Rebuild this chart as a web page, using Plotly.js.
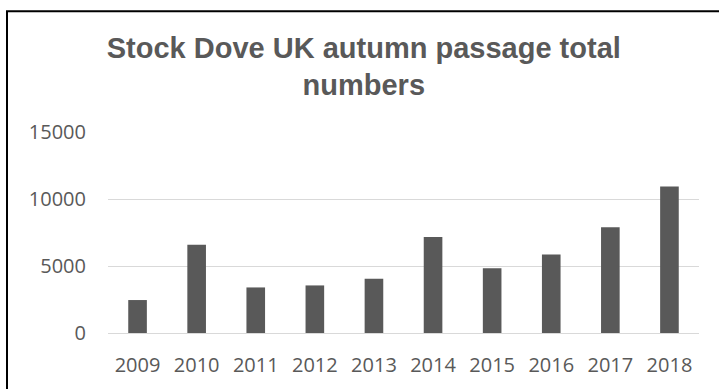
<!DOCTYPE html>
<html>
<head>
<meta charset="utf-8">
<script src="https://cdn.plot.ly/plotly-3.0.1.min.js"></script>
<style>
  html, body { margin: 0; padding: 0; background: #ffffff; }
  #chart { width: 719px; height: 389px; }
</style>
</head>
<body>
<div id="chart"></div>
<script>
const years = ["2009", "2010", "2011", "2012", "2013", "2014", "2015", "2016", "2017", "2018"];
const totals = [2460, 6580, 3400, 3550, 4050, 7170, 4840, 5860, 7890, 10940];
const yTicks = [0, 5000, 10000, 15000];
const titleText = "Stock Dove UK autumn passage total<br>numbers";

const trace = {
  type: "bar",
  x: years,
  y: totals,
  marker: { color: "#595959", line: { width: 0 } },
  hoverinfo: "x+y"
};

const layout = {
  width: 719,
  height: 389,
  margin: { l: 108, r: 20, t: 132, b: 55.5, pad: 0 },
  paper_bgcolor: "#ffffff",
  plot_bgcolor: "#ffffff",
  bargap: 0.685,
  showlegend: false,
  title: {
    text: titleText,
    font: { family: "Liberation Sans, Arial, sans-serif", size: 29, color: "#595959", weight: "bold" },
    x: 0.506,
    xanchor: "center",
    xref: "container",
    y: 0.852,
    yanchor: "bottom",
    yref: "container"
  },
  xaxis: {
    type: "category",
    showgrid: false,
    showline: true,
    linecolor: "#d9d9d9",
    linewidth: 1,
    ticks: "",
    ticklabelstandoff: 14,
    tickfont: { family: "Open Sans, sans-serif", size: 20, color: "#595959" },
    fixedrange: true
  },
  yaxis: {
    range: [0, 15000],
    tickvals: yTicks,
    ticktext: yTicks.map(String),
    showgrid: true,
    gridcolor: "#d9d9d9",
    gridwidth: 1,
    zeroline: false,
    showline: false,
    ticks: "",
    ticklabelstandoff: 21,
    tickfont: { family: "Open Sans, sans-serif", size: 20, color: "#595959" },
    fixedrange: true
  },
  shapes: [{
    type: "rect",
    xref: "paper",
    yref: "paper",
    x0: (7 - 108) / 591,
    x1: (730 - 108) / 591,
    y0: (333.5 - 400) / 201.5,
    y1: (333.5 - 11) / 201.5,
    line: { color: "#000000", width: 2 },
    fillcolor: "rgba(0,0,0,0)",
    layer: "above"
  }]
};

Plotly.newPlot("chart", [trace], layout, { displayModeBar: false, staticPlot: true });
</script>
</body>
</html>
